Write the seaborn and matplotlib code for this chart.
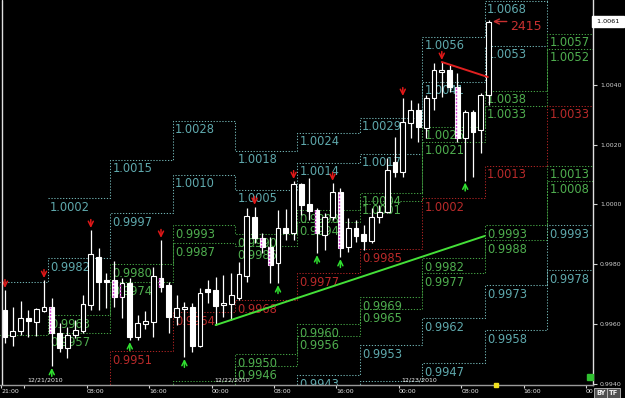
import numpy as np
import pandas as pd
import matplotlib
matplotlib.use("Agg")
import matplotlib.pyplot as plt
import matplotlib.transforms as mtransforms
import seaborn as sns

# ---------------- data (hourly bars, bar 0 = 12/20/2010 21:00) ----------------
opens = [0.99648, 0.99562, 0.99578, 0.99622, 0.99608, 0.99645, 0.99658, 0.99572, 0.99522, 0.99565,
         0.99578, 0.99665, 0.99825, 0.99748, 0.99748, 0.99692, 0.99738, 0.99558, 0.99602, 0.99608,
         0.99755, 0.99732, 0.99625, 0.99652, 0.99658, 0.99528, 0.99718, 0.99715, 0.99665, 0.99668,
         0.99688, 0.99762, 0.99958, 0.99888, 0.99858, 0.99805, 0.99922, 0.99905, 1.00068, 1.00002,
         0.99982, 0.99898, 0.99958, 1.00042, 0.99858, 0.99922, 0.99902, 0.99878, 0.99958, 0.99975,
         1.00142, 1.00108, 1.00272, 1.00315, 1.00255, 1.00355, 1.00442, 1.00448, 1.00392, 1.00222,
         1.00308, 1.00248, 1.00365]
highs = [0.99715, 0.99658, 0.99678, 0.99648, 0.99655, 0.99748, 0.99688, 0.99605, 0.99592, 0.99615,
         0.99698, 0.99915, 0.99855, 0.99772, 0.99812, 0.99755, 0.99755, 0.99632, 0.99645, 0.99792,
         0.99882, 0.99742, 0.99698, 0.99675, 0.99672, 0.99722, 0.99748, 0.99758, 0.99765, 0.99772,
         0.99808, 0.99988, 0.99992, 0.99905, 0.99892, 0.99982, 0.99985, 1.00078, 1.00072, 1.00088,
         0.99988, 0.99972, 1.00072, 1.00055, 0.99955, 0.99948, 0.99932, 0.99988, 0.99998, 1.00155,
         1.00225, 1.00355, 1.00348, 1.00338, 1.00365, 1.00472, 1.00475, 1.00465, 1.00438, 1.00315,
         1.00315, 1.00372, 1.00615]
lows = [0.99538, 0.99528, 0.99565, 0.99558, 0.99562, 0.99642, 0.99462, 0.99508, 0.99488, 0.99555,
        0.99572, 0.99648, 0.99648, 0.99655, 0.99658, 0.99622, 0.99548, 0.99548, 0.99585, 0.99558,
        0.99708, 0.99572, 0.99598, 0.99492, 0.99508, 0.99525, 0.99672, 0.99598, 0.99625, 0.99615,
        0.99682, 0.99742, 0.99872, 0.99838, 0.99738, 0.99738, 0.99882, 0.99882, 0.99965, 0.99948,
        0.99838, 0.99848, 0.99948, 0.99825, 0.99842, 0.99875, 0.99848, 0.99872, 0.99938, 0.99972,
        1.00092, 1.00092, 1.00222, 1.00208, 1.00222, 1.00315, 1.00358, 1.00375, 1.00208, 1.00080,
        1.00092, 1.00172, 1.00332]
closes = [0.99558, 0.99578, 0.99622, 0.99612, 0.99652, 0.99658, 0.99572, 0.99522, 0.99565, 0.99582,
          0.99668, 0.99835, 0.99742, 0.99742, 0.99692, 0.99738, 0.99558, 0.99605, 0.99612, 0.99762,
          0.99725, 0.99625, 0.99655, 0.99658, 0.99528, 0.99705, 0.99708, 0.99662, 0.99672, 0.99698,
          0.99768, 0.99962, 0.99888, 0.99858, 0.99798, 0.99922, 0.99905, 1.00068, 0.99998, 0.99978,
          0.99905, 0.99958, 1.00042, 0.99855, 0.99922, 0.99895, 0.99878, 0.99958, 0.99975, 1.00115,
          1.00108, 1.00275, 1.00315, 1.00258, 1.00355, 1.00448, 1.00448, 1.00392, 1.00222, 1.00308,
          1.00242, 1.00365, 1.00610]

red_arrow_bars = [0, 5, 11, 20, 32, 37, 42, 51, 56]
green_arrow_bars = [6, 16, 23, 35, 40, 43, 59]
pattern_bars = [6, 14, 15, 20, 33, 34, 40, 43, 58]

# 8-hour pivot segments (bar positions of segment starts)
seg_starts = [-2.5, 5.5, 13.5, 21.5, 29.5, 37.5, 45.5, 53.5, 61.5, 69.5]
seg_end = 78.0
nan = np.nan
R2a = [nan, 1.0002, 1.0015, 1.0028, 1.0018, 1.0024, 1.0029, 1.0056, 1.0068, 1.0088]
R2b = [0.9974, 0.9982, 0.9997, 1.0010, 1.0005, 1.0014, 1.0017, 1.0041, 1.0053, 1.0073]
R1a = [0.99565, 0.9963, 0.9980, 0.9993, 0.9990, 0.9998, 1.0004, 1.0026, 1.0038, 1.0057]
R1b = [nan, 0.9957, 0.9974, 0.9987, 0.9986, 0.9994, 1.0001, 1.0021, 1.0033, 1.0052]
PIV = [nan, 0.9934, 0.9951, 0.9964, 0.9968, 0.9977, 0.9985, 1.0002, 1.0013, 1.0033]
S1a = [nan, nan, 0.9928, 0.9941, 0.9950, 0.9960, 0.9969, 0.9982, 0.9993, 1.0013]
S1b = [nan, nan, 0.9922, 0.9935, 0.9946, 0.9956, 0.9965, 0.9977, 0.9988, 1.0008]
S2a = [nan, nan, nan, nan, 0.9931, 0.9943, 0.9953, 0.9962, 0.9973, 0.9993]
S2b = [nan, nan, nan, nan, 0.9918, 0.9930, 0.9941, 0.9947, 0.9958, 0.9978]

uptrend_x = [27.0, 61.5]
uptrend_y = [0.99598, 0.99895]
downtrend_x = [56.0, 61.9]
downtrend_y = [1.00475, 1.00425]

current_price = 1.0061
tick_counter = "2415"

xtick_pos = [-0.5, 2.5, 10.5, 18.5, 26.5, 34.5, 42.5, 50.5, 58.5, 66.5, 74.5]
xtick_labels = ["21:00", "", "08:00", "16:00", "00:00", "08:00", "16:00", "00:00", "08:00", "16:00", "00"]
date_pos = [2.5, 26.5, 50.5]
date_labels = ["12/21/2010", "12/22/2010", "12/23/2010"]
ytick_vals = [0.9940, 0.9960, 0.9980, 1.0000, 1.0020, 1.0040]

# ---------------- style ----------------
sns.set_theme(style="dark")
plt.rcParams["font.family"] = ["DejaVu Sans"]
plt.rcParams["axes.facecolor"] = "black"
plt.rcParams["figure.facecolor"] = "black"

CYAN_T, CYAN_L = "#5fa9ad", "#6fb0b0"
GREEN_T, GREEN_L = "#4fae4f", "#43a043"
RED_T, RED_L = "#b82a2a", "#a82222"

fig = plt.figure(figsize=(6.25, 3.98), dpi=100, facecolor="black")
ax = fig.add_axes([0, 13 / 398, 593 / 625, 385 / 398])
ax.set_facecolor("black")
ax.set_xlim(-0.641, 75.385)
ax.set_ylim(0.993983, 1.006817)
ax.grid(False)

# ---------------- pivot step levels ----------------
xs = seg_starts + [seg_end]
series = [(R2a, CYAN_L, CYAN_T), (R2b, CYAN_L, CYAN_T),
          (R1a, GREEN_L, GREEN_T), (R1b, GREEN_L, GREEN_T),
          (PIV, RED_L, RED_T),
          (S1a, GREEN_L, GREEN_T), (S1b, GREEN_L, GREEN_T),
          (S2a, CYAN_L, CYAN_T), (S2b, CYAN_L, CYAN_T)]
lab_trans = ax.transData + mtransforms.ScaledTranslation(1.6 / 72, -1.6 / 72, fig.dpi_scale_trans)
y0, y1 = ax.get_ylim()
for vals, lc, tc in series:
    ys = list(vals) + [vals[-1]]
    ax.plot(xs, ys, drawstyle="steps-post", color=lc, lw=0.75,
            ls=(0, (1.2, 1.6)), zorder=1)
    for i, v in enumerate(vals):
        if i == 0 or np.isnan(v) or v > y1 or v < y0:
            continue
        ax.text(seg_starts[i], v, f"{v:.4f}", transform=lab_trans, ha="left", va="top",
                fontsize=8.3, color=tc, zorder=2, clip_on=True)

# ---------------- candles ----------------
df = pd.DataFrame(dict(o=opens, h=highs, l=lows, c=closes))
df["x"] = np.arange(len(df))
bull = df.c >= df.o
body_lo = np.minimum(df.o, df.c)
body_h = np.maximum((df.c - df.o).abs(), 0.000035)
ax.vlines(df.x, df.l, df.h, color="white", lw=0.9, zorder=3)
ax.bar(df.x[bull], body_h[bull], bottom=body_lo[bull], width=0.64,
       facecolor="black", edgecolor="white", linewidth=0.8, zorder=4)
ax.bar(df.x[~bull], body_h[~bull], bottom=body_lo[~bull], width=0.64,
       facecolor="white", edgecolor="white", linewidth=0.8, zorder=4)
for b in pattern_bars:
    ax.vlines(b - 0.2, body_lo[b], body_lo[b] + body_h[b], color="#d040d0",
              lw=1.0, linestyles=(0, (1.5, 1.0)), zorder=5)

# fractal arrows
for b in red_arrow_bars:
    ax.annotate("", xy=(b, highs[b]), xytext=(0, 7.5), textcoords="offset points",
                arrowprops=dict(arrowstyle="->", color="#e01818", lw=1.1,
                                shrinkA=0, shrinkB=1.5, mutation_scale=9), zorder=6)
for b in green_arrow_bars:
    ax.annotate("", xy=(b, lows[b]), xytext=(0, -7.5), textcoords="offset points",
                arrowprops=dict(arrowstyle="->", color="#30e030", lw=1.1,
                                shrinkA=0, shrinkB=1.5, mutation_scale=9), zorder=6)

# trend lines
sns.lineplot(x=uptrend_x, y=uptrend_y, ax=ax, color="#44e038", lw=1.4, zorder=6)
sns.lineplot(x=downtrend_x, y=downtrend_y, ax=ax, color="#e02020", lw=1.4, zorder=6)

# current bar tick counter
last = len(df) - 1
ax.annotate("", xy=(last + 0.55, current_price), xytext=(10, 0), textcoords="offset points",
            arrowprops=dict(arrowstyle="->", color="#c83030", lw=1.0, shrinkA=0, shrinkB=0,
                            mutation_scale=9), zorder=6)
ax.annotate(tick_counter, xy=(last + 0.55, current_price), xytext=(12.5, -3.6),
            textcoords="offset points", color="#c83030", fontsize=9, ha="left", va="center",
            zorder=6)

# left border line
ax.plot([0.0042, 0.0042], [0, 1], transform=ax.transAxes, color="#e0e0e0", lw=1.0, zorder=7)

# ---------------- axes ----------------
for s in ["top", "left"]:
    ax.spines[s].set_visible(False)
ax.spines["right"].set_color("#e0e0e0")
ax.spines["right"].set_linewidth(1.0)
ax.spines["bottom"].set_color("#9a9a9a")
ax.spines["bottom"].set_linewidth(1.0)

ax.yaxis.tick_right()
ax.set_yticks(ytick_vals)
ax.set_yticklabels([f"{v:.4f}" for v in ytick_vals])
ax.tick_params(axis="y", colors="#d0d0d0", labelsize=4.5, length=3, width=0.8, pad=2,
               direction="out", right=True, left=False)
ax.set_xticks(xtick_pos)
ax.set_xticklabels(xtick_labels, ha="left")
ax.tick_params(axis="x", colors="#d8d8d8", labelsize=4.5, length=2.2, width=0.8, pad=0.6,
               direction="out", bottom=True)
for lbl in ax.get_xticklabels():
    lbl.set_color("#e8e8e8")

date_trans = ax.transData + mtransforms.ScaledTranslation(1.8 / 72, 1.6 / 72, fig.dpi_scale_trans)
for p, lab in zip(date_pos, date_labels):
    ax.text(p, y0, lab, transform=date_trans, ha="left", va="bottom", fontsize=4.5,
            color="#f0f0f0", zorder=7)

# current price box on the price scale
ax.text(1.003, current_price, f" {current_price:.4f} ", transform=ax.get_yaxis_transform(),
        ha="left", va="center", fontsize=4.6, color="black", zorder=8, clip_on=False,
        bbox=dict(boxstyle="square,pad=0.4", facecolor="white", edgecolor="white"))

# time marker on the time axis
ax.plot([len(df)], [y0], marker="s", ms=2.6, color="#f0e020", clip_on=False, zorder=9)

# small indicator square near the bottom-right corner
ax.plot([0.995], [0.02], transform=ax.transAxes, marker="s", ms=4.5, color="#30c030",
        clip_on=False, zorder=9)

# small buttons bottom-right
for xpx, t in [(596, "BY"), (609, "TF")]:
    fig.text(xpx / 625, 5 / 398, t, fontsize=4.8, color="#f0f0f0", ha="left", va="center",
             fontweight="bold",
             bbox=dict(boxstyle="square,pad=0.3", facecolor="#505050", edgecolor="#c0c0c0", lw=0.6))

fig.savefig("out.png", dpi=100, facecolor="black")
